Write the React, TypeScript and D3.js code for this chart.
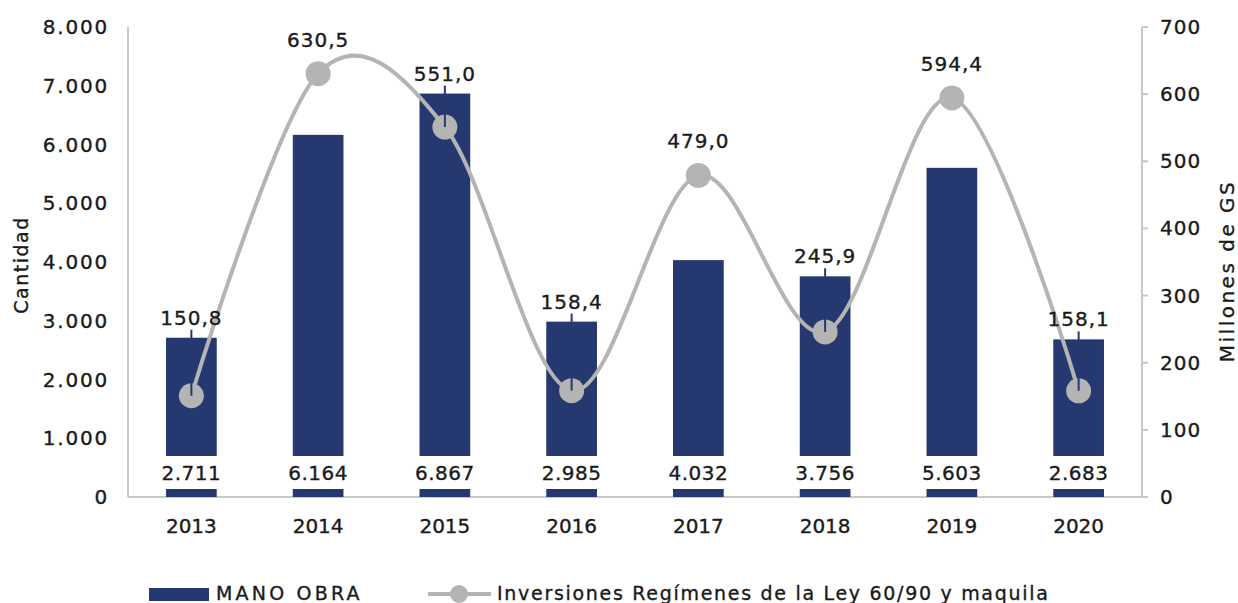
import React from "react";
import * as d3 from "d3";

const years = ["2013", "2014", "2015", "2016", "2017", "2018", "2019", "2020"];
const manoObra = [2711, 6164, 6867, 2985, 4032, 3756, 5603, 2683];
const inversiones = [150.8, 630.5, 551.0, 158.4, 479.0, 245.9, 594.4, 158.1];
const leftTicks = [0, 1000, 2000, 3000, 4000, 5000, 6000, 7000, 8000];
const rightTicks = [0, 100, 200, 300, 400, 500, 600, 700];

const W = 1238;
const H = 603;
const FONT = "'DejaVu Sans', sans-serif";
const BAR = "#253870";
const LINE = "#b4b4b4";
const AXIS = "#c8c8c8";
const TEXT = "#1a1a1a";

const fmtInt = (v: number) => {
  const s = Math.round(v).toString();
  return s.replace(/\B(?=(\d{3})+(?!\d))/g, ".");
};
const fmtDec = (v: number) => v.toFixed(1).replace(".", ",");

const txt = { fill: TEXT, stroke: TEXT, strokeWidth: 0.35 } as const;

export default function App() {
  const left = 128;
  const right = 1142;
  const top = 27;
  const bottom = 497;

  const x = d3.scaleBand<string>().domain(years).range([left, right]).paddingInner(0.6).paddingOuter(0.3);
  const xc = (y: string) => (x(y) as number) + x.bandwidth() / 2;
  const yL = d3.scaleLinear().domain([0, 8000]).range([bottom, top]);
  const yR = d3.scaleLinear().domain([0, 700]).range([bottom, top]);

  const pts: [number, number][] = years.map((yr, i) => [xc(yr), yR(inversiones[i])]);
  const linePath = d3.line().curve(d3.curveCardinal.tension(0))(pts) || "";

  const barLabelY = yL(0) - 24;

  return (
    <svg width={W} height={H} style={{ position: "absolute", left: 0, top: 0, background: "#fff" }} fontFamily={FONT}>
      {/* axes */}
      <line x1={left} x2={left} y1={top} y2={bottom} stroke={AXIS} strokeWidth={2} />
      <line x1={right} x2={right} y1={top} y2={bottom} stroke={AXIS} strokeWidth={2} />
      <line x1={left} x2={right} y1={bottom} y2={bottom} stroke={AXIS} strokeWidth={2} />

      {leftTicks.map((t) => (
        <text key={"l" + t} x={109} y={yL(t)} textAnchor="end" dominantBaseline="central" fontSize={20} letterSpacing={1.8} {...txt}>
          {fmtInt(t)}
        </text>
      ))}
      {rightTicks.map((t) => (
        <g key={"r" + t}>
          <line x1={right} x2={right + 6} y1={yR(t)} y2={yR(t)} stroke={AXIS} strokeWidth={2} />
          <text x={1160} y={yR(t)} textAnchor="start" dominantBaseline="central" fontSize={20} letterSpacing={1} {...txt}>
            {t}
          </text>
        </g>
      ))}
      {years.map((yr) => (
        <text key={"x" + yr} x={xc(yr)} y={526} textAnchor="middle" dominantBaseline="central" fontSize={20} {...txt}>
          {yr}
        </text>
      ))}

      <text transform={`translate(21,265) rotate(-90)`} textAnchor="middle" dominantBaseline="central" fontSize={19} letterSpacing={1.5} {...txt}>
        Cantidad
      </text>
      <text transform={`translate(1227,271) rotate(-90)`} textAnchor="middle" dominantBaseline="central" fontSize={20} letterSpacing={2.5} {...txt}>
        Millones de GS
      </text>

      {/* bars */}
      {years.map((yr, i) => (
        <rect key={"b" + yr} x={x(yr)} y={yL(manoObra[i])} width={x.bandwidth()} height={yL(0) - yL(manoObra[i])} fill={BAR} />
      ))}
      {/* bar labels with white boxes */}
      {years.map((yr, i) => (
        <g key={"bl" + yr}>
          <rect x={xc(yr) - x.bandwidth() / 2 - 8} y={barLabelY - 17} width={x.bandwidth() + 16} height={33} fill="#fff" />
          <text x={xc(yr)} y={barLabelY} textAnchor="middle" dominantBaseline="central" fontSize={20} letterSpacing={0.5} {...txt}>
            {fmtInt(manoObra[i])}
          </text>
        </g>
      ))}

      {/* line */}
      <path d={linePath} fill="none" stroke={LINE} strokeWidth={4} />
      {pts.map((p, i) => (
        <circle key={"c" + i} cx={p[0]} cy={p[1]} r={12.5} fill={LINE} />
      ))}

      {/* point labels & leaders */}
      {years.map((yr, i) => {
        const py = yR(inversiones[i]);
        const barTop = yL(manoObra[i]);
        const byPoint = py - 34;
        const byBar = barTop - 20;
        const ly = Math.min(byPoint, byBar);
        const leader = byBar < byPoint;
        return (
          <g key={"pl" + yr}>
            {leader && (
              <line x1={xc(yr)} x2={xc(yr)} y1={ly + 12} y2={py} stroke={BAR} strokeWidth={2} />
            )}
            <text x={xc(yr)} y={ly} textAnchor="middle" dominantBaseline="central" fontSize={20} letterSpacing={1} {...txt}>
              {fmtDec(inversiones[i])}
            </text>
          </g>
        );
      })}

      {/* legend */}
      <rect x={149} y={588} width={60} height={13} fill={BAR} />
      <text x={216} y={593} dominantBaseline="central" fontSize={19} letterSpacing={3.2} {...txt}>
        MANO OBRA
      </text>
      <line x1={428} x2={491} y1={594} y2={594} stroke={LINE} strokeWidth={4} />
      <circle cx={459} cy={594} r={9} fill={LINE} />
      <text x={497} y={593} dominantBaseline="central" fontSize={19} letterSpacing={1.7} {...txt}>
        Inversiones Regímenes de la Ley 60/90 y maquila
      </text>
    </svg>
  );
}
